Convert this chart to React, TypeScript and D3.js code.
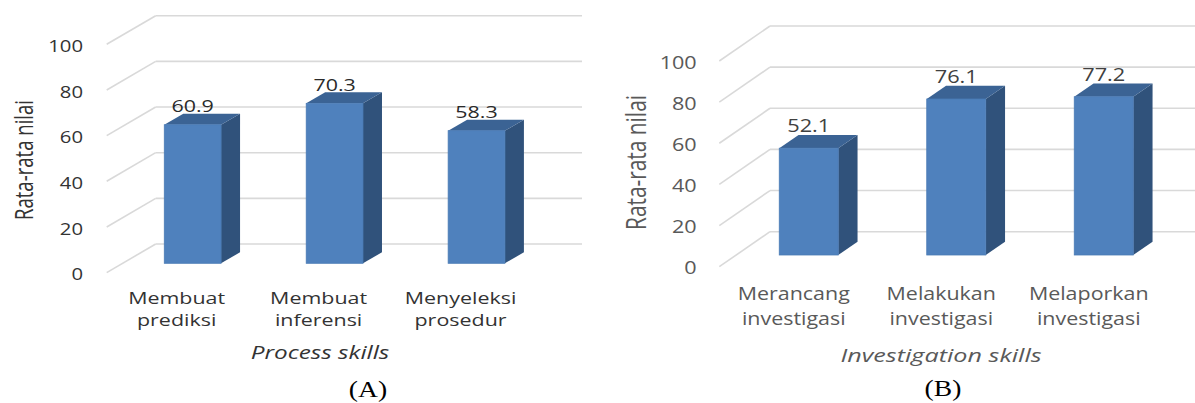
import React from "react";
import * as d3 from "d3";

const categoriesA = [["Membuat", "prediksi"], ["Membuat", "inferensi"], ["Menyeleksi", "prosedur"]];
const valuesA = [60.9, 70.3, 58.3];
const categoriesB = [["Merancang", "investigasi"], ["Melakukan", "investigasi"], ["Melaporkan", "investigasi"]];
const valuesB = [52.1, 76.1, 77.2];
const yTicks = [0, 20, 40, 60, 80, 100];
const yTitle = "Rata-rata nilai";
const xTitleA = "Process skills";
const xTitleB = "Investigation skills";
const panelLabelA = "(A)";
const panelLabelB = "(B)";

type Cfg = {
  cats: string[][];
  vals: number[];
  xTitle: string;
  panel: string;
  wallX0: number; wallX1: number; wallY0: number; wallY100: number;
  floorDx: number; floorDy: number;
  tickRight: number;
  barBottom: number; barPx: number;
  bandStart: number; bandEnd: number;
  depthDx: number; depthDy: number;
  valOffset: number;
  catShift: number; catY1: number; catY2: number;
  titleX: number; titleY: number;
  panelX: number; panelY: number;
  yTitleX: number; yTitleY: number;
  tickFont: number; tickSx: number;
  catFont: number; catSx: number;
  valFont: number; valSx: number;
  yTitleFont: number; yTitleLen: number;
  titleFont: number; titleSx: number;
  textColor: string; valColor: string;
};

const font = "'Open Sans', 'Noto Sans', sans-serif";

function STxt({ x, y, sx, size, color, children, italic, anchor = "middle", family = font }: any) {
  return (
    <g transform={`translate(${x},${y}) scale(${sx},1)`}>
      <text
        textAnchor={anchor}
        dominantBaseline="central"
        fontSize={size}
        fill={color}
        fontFamily={family}
        fontStyle={italic ? "italic" : "normal"}
      >
        {children}
      </text>
    </g>
  );
}

function Panel({ c }: { c: Cfg }) {
  const wallY = d3.scaleLinear().domain([0, 100]).range([c.wallY0, c.wallY100]);
  const barY = d3.scaleLinear().domain([0, 100]).range([c.barBottom, c.barBottom - 100 * c.barPx]);
  const band = d3.scaleBand<number>().domain(d3.range(c.cats.length)).range([c.bandStart, c.bandEnd]).padding(0);
  const bw = band.bandwidth() * 0.4;
  return (
    <g>
      {yTicks.map((t) => (
        <g key={t}>
          <line x1={c.wallX0} x2={c.wallX1} y1={wallY(t)} y2={wallY(t)} stroke="#d9d9d9" strokeWidth={1.6} />
          <line x1={c.wallX0} x2={c.wallX0 + c.floorDx} y1={wallY(t)} y2={wallY(t) + c.floorDy} stroke="#d9d9d9" strokeWidth={1.6} />
          <STxt x={c.tickRight} y={wallY(t) + c.floorDy + 1} sx={c.tickSx} size={c.tickFont} color={c.textColor} anchor="end">
            {t}
          </STxt>
        </g>
      ))}
      {c.vals.map((v, i) => {
        const cx = (band(i) as number) + band.bandwidth() / 2;
        const L = cx - bw / 2, R = cx + bw / 2;
        const T = barY(v), B = barY(0);
        const dx = c.depthDx, dy = c.depthDy;
        return (
          <g key={i}>
            <path d={`M${R},${T}L${R + dx},${T + dy}L${R + dx},${B + dy}L${R},${B}Z`} fill="#30527B" />
            <path d={`M${L},${T}L${R},${T}L${R + dx},${T + dy}L${L + dx},${T + dy}Z`} fill="#3B6394" />
            <rect x={L} y={T} width={bw} height={B - T} fill="#4F81BD" stroke="#4a7bb5" strokeWidth={0.8} />
            <STxt x={cx} y={T - c.valOffset} sx={c.valSx} size={c.valFont} color={c.valColor}>
              {v.toFixed(1)}
            </STxt>
            <STxt x={cx + c.catShift} y={c.catY1} sx={c.catSx} size={c.catFont} color={c.textColor}>
              {c.cats[i][0]}
            </STxt>
            <STxt x={cx + c.catShift} y={c.catY2} sx={c.catSx} size={c.catFont} color={c.textColor}>
              {c.cats[i][1]}
            </STxt>
          </g>
        );
      })}
      <g transform={`translate(${c.yTitleX},${c.yTitleY}) scale(1.2,1) rotate(-90)`}>
        <text
          textAnchor="middle"
          dominantBaseline="central"
          fontSize={c.yTitleFont}
          fill={c.textColor}
          fontFamily={font}
          textLength={c.yTitleLen}
          lengthAdjust="spacingAndGlyphs"
        >
          {yTitle}
        </text>
      </g>
      <STxt x={c.titleX} y={c.titleY} sx={c.titleSx} size={c.titleFont} color={c.textColor} italic>
        {c.xTitle}
      </STxt>
      <STxt x={c.panelX} y={c.panelY} sx={1.2} size={23} color="#000" family="'Liberation Serif', 'DejaVu Serif', serif">
        {c.panel}
      </STxt>
    </g>
  );
}

const cfgA: Cfg = {
  cats: categoriesA, vals: valuesA, xTitle: xTitleA, panel: panelLabelA,
  wallX0: 155.7, wallX1: 582, wallY0: 244, wallY100: 15.7,
  floorDx: -49, floorDy: 28.6,
  tickRight: 83,
  barBottom: 263.3, barPx: 2.275,
  bandStart: 121.7, bandEnd: 547.5,
  depthDx: 19, depthDy: -11,
  valOffset: 18.5,
  catShift: -16, catY1: 297.7, catY2: 320,
  titleX: 320, titleY: 352,
  panelX: 368, panelY: 389,
  yTitleX: 23, yTitleY: 160,
  tickFont: 16, tickSx: 1.27,
  catFont: 16.5, catSx: 1.3,
  valFont: 16.5, valSx: 1.3,
  yTitleFont: 21, yTitleLen: 120,
  titleFont: 17.5, titleSx: 1.39,
  textColor: "#333333", valColor: "#2a2a2a",
};

const cfgB: Cfg = {
  cats: categoriesB, vals: valuesB, xTitle: xTitleB, panel: panelLabelB,
  wallX0: 770, wallX1: 1195, wallY0: 231.7, wallY100: 26,
  floorDx: -50.7, floorDy: 35,
  tickRight: 696.7,
  barBottom: 255, barPx: 2.05,
  bandStart: 735, bandEnd: 1177.5,
  depthDx: 19.3, depthDy: -13.3,
  valOffset: 22.7,
  catShift: -15, catY1: 293.3, catY2: 318.3,
  titleX: 941, titleY: 355,
  panelX: 943, panelY: 388,
  yTitleX: 635, yTitleY: 162.5,
  tickFont: 18, tickSx: 1.2,
  catFont: 17.3, catSx: 1.24,
  valFont: 18, valSx: 1.21,
  yTitleFont: 23, yTitleLen: 135,
  titleFont: 18, titleSx: 1.4,
  textColor: "#595959", valColor: "#404040",
};

export default function App() {
  return (
    <svg
      width={1195}
      height={403}
      style={{ position: "absolute", left: 0, top: 0, background: "#fff" }}
    >
      <rect width={1195} height={403} fill="#fff" />
      <Panel c={cfgA} />
      <Panel c={cfgB} />
    </svg>
  );
}
